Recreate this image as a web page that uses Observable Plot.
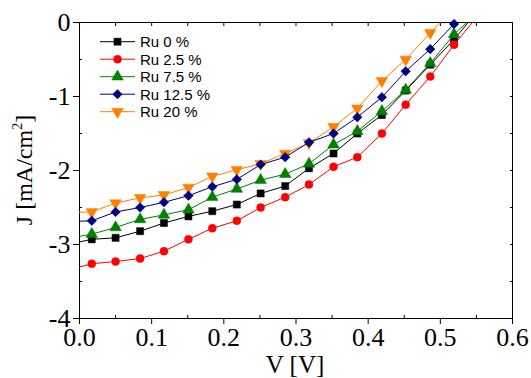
<!DOCTYPE html>
<html><head><meta charset="utf-8">
<script src="https://cdn.jsdelivr.net/npm/d3@7"></script>
<script src="https://cdn.jsdelivr.net/npm/@observablehq/plot@0.6"></script>
<style>body{margin:0;background:#fff} svg{display:block}</style>
</head><body><div id="chart"></div>
<script>
// ---- data ----
const voltage = [-0.017, 0.017, 0.050, 0.084, 0.117, 0.151, 0.184, 0.218, 0.251, 0.285, 0.318, 0.352, 0.385, 0.419, 0.452, 0.486, 0.519, 0.553];
const seriesNames = ["Ru 0 %", "Ru 2.5 %", "Ru 7.5 %", "Ru 12.5 %", "Ru 20 %"];
const jRu0   = [-3.00, -2.93, -2.91, -2.82, -2.71, -2.62, -2.55, -2.46, -2.31, -2.21, -1.97, -1.77, -1.50, -1.25, -0.92, -0.57, -0.23, 0.17];
const jRu2_5 = [-3.35, -3.26, -3.23, -3.19, -3.09, -2.93, -2.78, -2.68, -2.50, -2.36, -2.19, -1.95, -1.82, -1.50, -1.11, -0.73, -0.30, 0.10];
const jRu7_5 = [-2.92, -2.86, -2.77, -2.66, -2.60, -2.53, -2.36, -2.25, -2.13, -2.05, -1.91, -1.65, -1.47, -1.20, -0.91, -0.55, -0.16, 0.15];
const jRu12_5= [-2.69, -2.68, -2.56, -2.50, -2.43, -2.34, -2.22, -2.12, -1.92, -1.82, -1.62, -1.50, -1.28, -1.01, -0.66, -0.36, -0.02, 0.32];
const jRu20  = [-2.57, -2.56, -2.44, -2.37, -2.33, -2.23, -2.08, -1.99, -1.91, -1.77, -1.63, -1.41, -1.16, -0.79, -0.50, -0.14, 0.20, 0.55];
const xTicks = [0, 0.1, 0.2, 0.3, 0.4, 0.5, 0.6];
const xMinorTicks = [0.05, 0.15, 0.25, 0.35, 0.45, 0.55];
const yTicks = [0, -1, -2, -3, -4];
const yMinorTicks = [-0.5, -1.5, -2.5, -3.5];
const xLabel = "V [V]";
const yLabel = "J [mA/cm";

// ---- styles ----
const colors = ["#000000", "#ff0000", "#008000", "#000080", "#ff8000"];
const sqrt3 = Math.sqrt(3);
const triangleDown = {
  draw(context, size) {
    const y = -Math.sqrt(size / (sqrt3 * 3));
    context.moveTo(0, -y * 2);
    context.lineTo(-sqrt3 * y, y);
    context.lineTo(sqrt3 * y, y);
    context.closePath();
  }
};
const symbols = [d3.symbolSquare, d3.symbolCircle, d3.symbolTriangle, d3.symbolDiamond2, triangleDown];
const radii = [4, 4, 4.3, 4.3, 4.3];
const valuesBySeries = [jRu0, jRu2_5, jRu7_5, jRu12_5, jRu20];

const rows = seriesNames.flatMap((name, i) =>
  voltage.map((v, k) => ({series: name, idx: i, V: v, J: valuesBySeries[i][k]})));

const serif = "'Liberation Serif', 'Times New Roman', serif";
const drawOrder = [0, 1, 2, 4, 3];

const seriesMarks = drawOrder.flatMap(i => {
  const d = rows.filter(r => r.idx === i);
  return [
    Plot.line(d, {x: "V", y: "J", stroke: colors[i], strokeWidth: 1, clip: true}),
    Plot.dot(d.filter(r => r.V >= 0 && r.J <= 0), {x: "V", y: "J", fill: colors[i], stroke: colors[i], strokeWidth: 0.5, symbol: symbols[i], r: radii[i]})
  ];
});

const chart = Plot.plot({
  width: 531, height: 378,
  marginLeft: 79, marginRight: 19, marginTop: 22, marginBottom: 60,
  style: {fontFamily: serif, background: "#fff", color: "#000"},
  x: {domain: [0, 0.6]},
  y: {domain: [-4, 0]},
  marks: [
    Plot.frame({stroke: "#000", strokeWidth: 1}),
    Plot.axisX(xTicks, {anchor: "bottom", tickSize: 6, tickPadding: 3, fontSize: 26, fontFamily: serif, tickFormat: d => d.toFixed(1), label: null}),
    Plot.axisX(xMinorTicks, {anchor: "bottom", tickSize: -3, tickFormat: () => "", label: null}),
    Plot.axisX([...xTicks, ...xMinorTicks], {anchor: "top", tickSize: -3, tickFormat: () => "", label: null}),
    Plot.axisY(yTicks, {anchor: "left", tickSize: 6, tickPadding: 3, fontSize: 26, fontFamily: serif, tickFormat: d => String(d), label: null}),
    Plot.axisY(yMinorTicks, {anchor: "left", tickSize: -3, tickFormat: () => "", label: null}),
    Plot.axisY([...yTicks, ...yMinorTicks], {anchor: "right", tickSize: -3, tickFormat: () => "", label: null}),
    ...seriesMarks
  ]
});

const svg = d3.select(chart);
// axis titles
svg.append("text")
  .attr("x", 295).attr("y", 373)
  .attr("text-anchor", "middle")
  .style("font-family", serif).style("font-size", "25px").attr("fill", "#000")
  .text(xLabel);
const yt = svg.append("text")
  .attr("transform", "translate(32,170) rotate(-90)")
  .attr("text-anchor", "middle")
  .style("font-family", serif).style("font-size", "24px").attr("fill", "#000");
yt.append("tspan").text(yLabel);
yt.append("tspan").attr("dy", -10).style("font-size", "14px").text("2");
yt.append("tspan").attr("dy", 10).text("]");

// legend
const lg = svg.append("g").attr("class", "legend");
seriesNames.forEach((name, i) => {
  const y = 41.7 + i * 17.5;
  lg.append("line").attr("x1", 100).attr("x2", 135).attr("y1", y).attr("y2", y)
    .attr("stroke", colors[i]).attr("stroke-width", 1);
  lg.append("path")
    .attr("transform", `translate(117.5,${y})`)
    .attr("d", d3.symbol(symbols[i], Math.PI * radii[i] * radii[i])())
    .attr("fill", colors[i]).attr("stroke", colors[i]).attr("stroke-width", 0.5);
  lg.append("text").attr("x", 140).attr("y", y + 5.5)
    .attr("text-anchor", "start")
    .style("font-family", "'Liberation Sans', Arial, sans-serif").style("font-size", "15px")
    .attr("fill", "#000").text(name);
});

document.getElementById("chart").appendChild(chart);
</script>
</body></html>
